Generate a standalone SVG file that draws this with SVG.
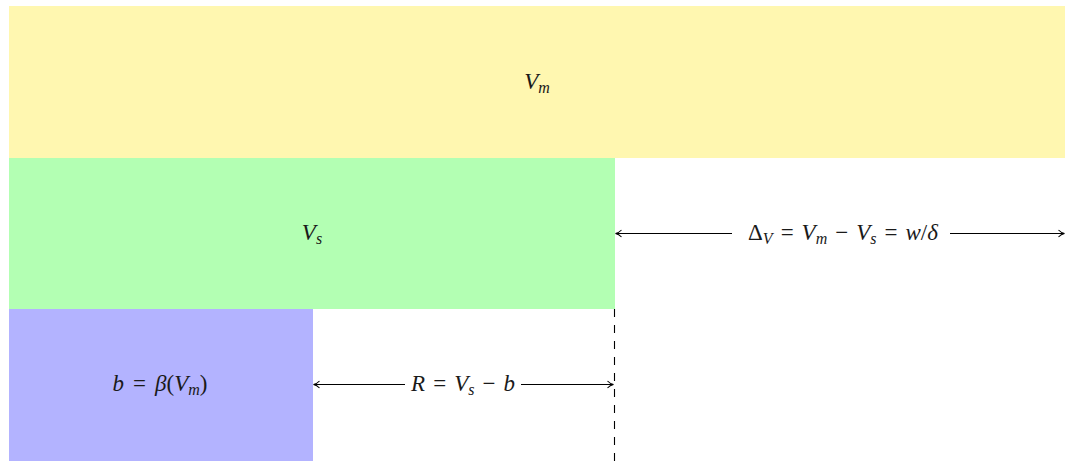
<svg xmlns="http://www.w3.org/2000/svg" width="1065" height="462" viewBox="0 0 1065 462">
<style>
text{font-family:"Liberation Serif","DejaVu Serif",serif;font-size:23px;fill:#1a1a1a}
.i{font-style:italic}
.sub{font-size:16px}
.conn{stroke:#000;stroke-width:1.1;fill:none}
.dash{stroke:#000;stroke-width:1.1;stroke-dasharray:8 8;fill:none}
</style>
<defs>
<marker id="ah" markerWidth="10" markerHeight="10" refX="7" refY="5" orient="auto-start-reverse" markerUnits="userSpaceOnUse">
<path d="M1.5,1.5 Q4,4.2 7.5,5 Q4,5.8 1.5,8.5" fill="none" stroke="#000" stroke-width="1.1"/>
</marker>
</defs>
<g id="vm">
<rect x="9" y="6" width="1056" height="152" fill="#FFF7B0"/>
<text x="537" y="89" text-anchor="middle"><tspan class="i">V</tspan><tspan class="i sub" dy="4">m</tspan></text>
</g>
<g id="vs">
<rect x="9" y="158" width="606" height="151" fill="#B3FFB3"/>
<text x="312" y="240" text-anchor="middle"><tspan class="i">V</tspan><tspan class="i sub" dy="4">s</tspan></text>
</g>
<g id="b">
<rect x="9" y="309" width="304" height="152" fill="#B3B3FF"/>
<text x="160" y="391" text-anchor="middle"><tspan class="i">b</tspan><tspan dx="9">=</tspan><tspan class="i" dx="9">β</tspan>(<tspan class="i">V</tspan><tspan class="i sub" dy="4">m</tspan><tspan dy="-4">)</tspan></text>
</g>
<g id="connectors">
<line class="dash" x1="614.5" y1="309" x2="614.5" y2="462"/>
<line class="conn" x1="616" y1="233.5" x2="732" y2="233.5" marker-start="url(#ah)"/>
<line class="conn" x1="950" y1="233.5" x2="1064" y2="233.5" marker-end="url(#ah)"/>
<line class="conn" x1="314" y1="384.5" x2="405" y2="384.5" marker-start="url(#ah)"/>
<line class="conn" x1="521" y1="384.5" x2="613" y2="384.5" marker-end="url(#ah)"/>
</g>
<g id="labels">
<text x="843" y="240" text-anchor="middle">Δ<tspan class="i sub" dy="4">V</tspan><tspan dy="-4" dx="8">=</tspan><tspan class="i" dx="8">V</tspan><tspan class="i sub" dy="4">m</tspan><tspan dy="-4" dx="8">−</tspan><tspan class="i" dx="8">V</tspan><tspan class="i sub" dy="4">s</tspan><tspan dy="-4" dx="8">=</tspan><tspan class="i" dx="8">w</tspan>/<tspan class="i">δ</tspan></text>
<text x="463" y="391" text-anchor="middle"><tspan class="i">R</tspan><tspan dx="8">=</tspan><tspan class="i" dx="8">V</tspan><tspan class="i sub" dy="4">s</tspan><tspan dy="-4" dx="8">−</tspan><tspan class="i" dx="8">b</tspan></text>
</g>
</svg>
